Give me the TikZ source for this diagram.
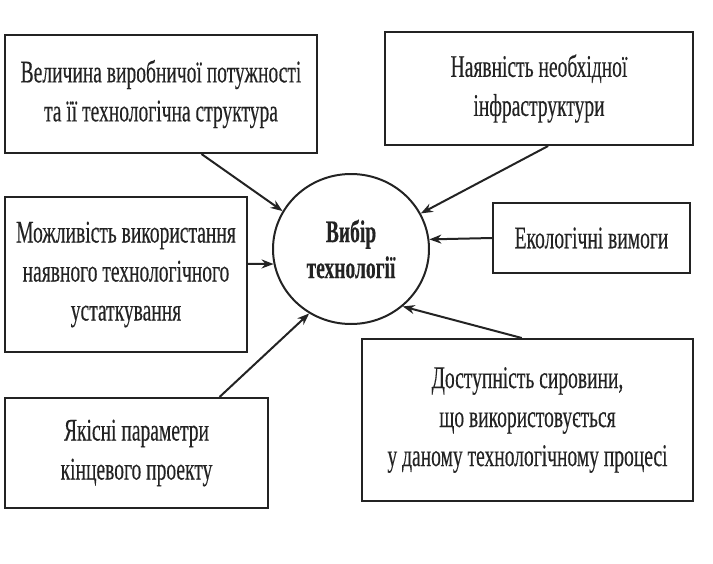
\documentclass[tikz,border=0pt]{standalone}
\usepackage{fontspec}
\setmainfont{Liberation Serif}[FakeStretch=0.62, FakeBold=0.3]
\usetikzlibrary{
  arrows.meta, % for arrow tips
  shapes.geometric, % for the ellipse
}
\definecolor{scan-ink}{RGB}{35,35,35}

\begin{document}
\begin{tikzpicture}[x=1pt, y=-1pt,
    font=\fontsize{31.5}{39}\selectfont,
    factor/.style={draw=scan-ink, line width=2pt, align=center, inner sep=2pt, text=scan-ink},
    choice/.style={ellipse, draw=scan-ink, line width=2pt, align=center, text=scan-ink,
      font=\fontsize{31.5}{36}\selectfont\bfseries},
    influence/.style={-{Stealth[length=12pt, width=9pt]}, draw=scan-ink, line width=2pt},
  ]
  \useasboundingbox (0,0) rectangle (713,563);
  \node[choice, minimum width=156pt, minimum height=150pt] (choice) at (351,249) {Вибір\\ технології};

  % factors around the choice
  \node[factor, minimum width=312pt, minimum height=118pt] (capacity) at (161,94)
    {Величина виробничої потужності\\ та її технологічна структура};
  \node[factor, minimum width=308pt, minimum height=113pt] (infra) at (539,88.5)
    {Наявність необхідної\\ інфраструктури};
  \node[factor, minimum width=242pt, minimum height=155pt] (equip) at (126,274.5)
    {Можливість використання\\ наявного технологічного\\ устаткування};
  \node[factor, minimum width=197pt, minimum height=70pt] (ecology) at (591.5,238)
    {Екологічні вимоги};
  \node[factor, minimum width=263pt, minimum height=110pt] (quality) at (136.5,453)
    {Якісні параметри\\ кінцевого проекту};
  \node[factor, minimum width=331pt, minimum height=162pt] (rawmat) at (527.5,420)
    {Доступність сировини,\\ що використовується\\ у даному технологічному процесі};

  \draw[influence] (capacity.-56.5) -- (choice.151);
  \draw[influence] (infra.-81) -- (choice.27);
  \draw[influence] (ecology.west) -- (choice.7);
  \draw[influence] (equip.5) -- (choice.191);
  \draw[influence] (quality.34) -- (choice.237);
  \draw[influence] (rawmat.94) -- (choice.312);
\end{tikzpicture}
\end{document}
